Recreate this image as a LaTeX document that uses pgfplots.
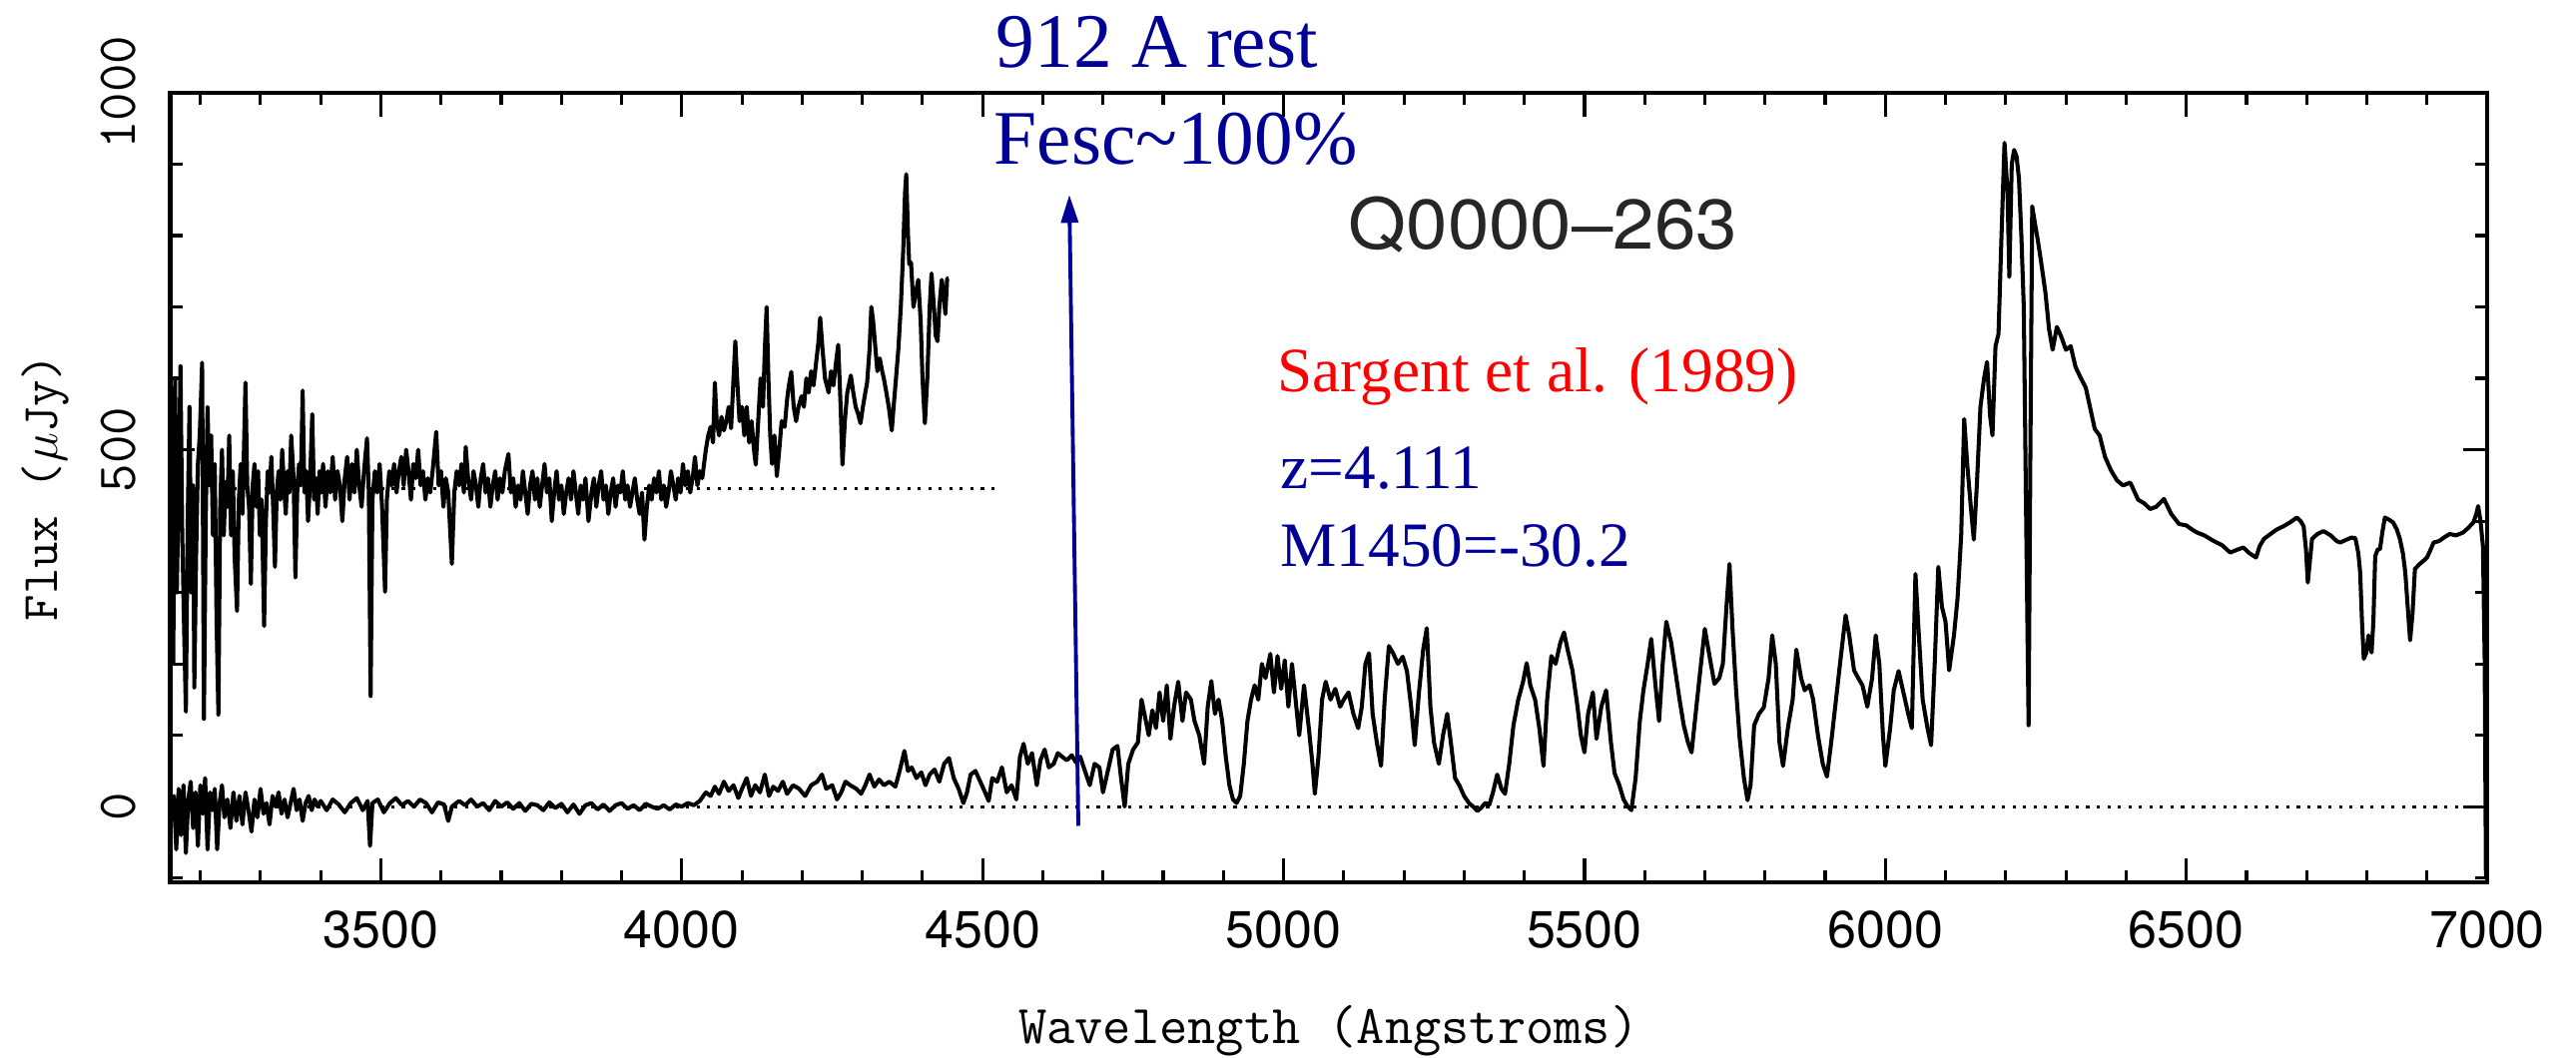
\documentclass[border=0pt]{standalone}
\usepackage{fontspec}
\usepackage{graphicx}
\usepackage{pgfplots}
\usepackage{pgfplotstable}
\pgfplotsset{compat=1.18}
\usetikzlibrary{arrows.meta}
\setmainfont{Liberation Serif}
\newfontfamily\helv{TeX Gyre Heros}
\definecolor{navyb}{RGB}{0,0,150}

\pgfplotstableread{
x y
3152 -20
3156 15
3160 -60
3164 25
3168 -40
3172 30
3176 -65
3180 10
3184 35
3188 -30
3192 20
3196 -55
3200 30
3204 -10
3208 40
3212 -60
3216 20
3220 -5
3224 25
3228 -60
3232 5
3236 30
3240 -15
3245 10
3250 -30
3255 20
3260 -20
3265 15
3270 -25
3275 20
3280 -5
3285 -35
3290 10
3295 -15
3300 25
3305 -10
3310 5
3315 -25
3320 15
3325 0
3330 20
3335 -10
3340 10
3345 -15
3350 5
3355 25
3360 -5
3365 10
3370 -20
3375 5
3380 15
3385 -5
3390 10
3395 0
3400 8
3410 -5
3420 10
3430 3
3440 -8
3450 5
3460 12
3470 -5
3478 8
3482 -55
3486 5
3495 10
3505 -8
3515 5
3525 12
3535 2
3545 8
3555 0
3565 10
3575 5
3585 -8
3595 6
3605 3
3612 -20
3618 0
3630 8
3640 2
3650 10
3660 0
3670 5
3680 -5
3690 8
3700 0
3710 6
3720 -3
3730 5
3740 -6
3750 4
3760 2
3770 -5
3780 6
3790 -2
3800 4
3810 -8
3820 3
3830 -10
3840 2
3850 5
3860 -4
3870 3
3880 -6
3890 2
3900 5
3910 -3
3920 2
3930 -5
3940 4
3950 0
3960 -3
3970 2
3980 -4
3990 3
4000 0
4010 5
4020 2
4030 8
4040 20
4048 15
4055 28
4062 18
4070 35
4078 22
4086 30
4094 12
4100 25
4108 40
4115 15
4122 30
4130 20
4138 45
4145 15
4152 28
4160 22
4168 35
4175 18
4185 30
4195 25
4205 15
4215 30
4225 35
4233 45
4240 25
4250 30
4258 10
4265 20
4272 35
4280 30
4290 25
4298 18
4305 30
4312 45
4320 28
4328 38
4336 30
4345 35
4355 28
4362 50
4370 78
4376 50
4382 55
4390 40
4398 48
4405 30
4412 45
4420 52
4428 35
4436 60
4444 68
4452 40
4460 25
4468 5
4474 20
4480 45
4488 50
4496 35
4504 20
4510 8
4516 40
4524 35
4532 55
4540 20
4548 30
4556 10
4562 70
4568 88
4575 60
4582 75
4590 30
4596 65
4603 80
4610 55
4618 60
4625 75
4632 70
4640 65
4648 72
4655 62
4662 70
4670 50
4678 30
4686 60
4694 55
4700 20
4708 50
4716 80
4724 85
4730 40
4736 0
4742 60
4750 80
4758 90
4764 150
4770 125
4776 100
4782 135
4788 110
4794 160
4800 120
4806 170
4812 95
4818 140
4825 175
4832 120
4838 160
4846 150
4852 120
4860 100
4868 60
4874 140
4880 176
4886 130
4892 150
4898 120
4904 70
4910 30
4916 10
4922 5
4928 15
4934 60
4940 120
4946 150
4952 170
4958 150
4964 200
4970 180
4978 214
4984 160
4990 211
4996 165
5002 205
5008 140
5014 200
5020 150
5026 100
5034 170
5042 110
5048 60
5052 18
5058 70
5064 150
5070 175
5078 150
5086 165
5094 140
5100 150
5108 160
5116 130
5124 110
5130 140
5136 200
5142 215
5148 130
5155 90
5162 57
5168 150
5175 225
5182 215
5190 200
5198 210
5205 190
5212 140
5218 86
5225 160
5232 220
5238 250
5244 140
5250 90
5258 60
5265 100
5272 130
5278 90
5285 40
5292 30
5300 15
5308 5
5315 0
5322 -6
5328 -2
5335 5
5342 3
5348 20
5355 45
5362 25
5368 18
5375 60
5382 114
5390 150
5398 175
5404 201
5410 170
5418 150
5425 110
5432 57
5438 150
5445 211
5452 200
5460 230
5466 244
5472 220
5480 191
5488 143
5494 100
5500 76
5506 130
5514 160
5520 95
5528 140
5536 163
5544 90
5550 47
5558 30
5565 10
5572 0
5578 -5
5585 40
5592 120
5598 163
5605 200
5611 235
5618 170
5624 120
5630 200
5636 259
5644 230
5650 196
5658 150
5665 114
5672 90
5678 76
5686 140
5692 187
5700 249
5708 210
5716 172
5724 180
5730 200
5736 280
5741 340
5746 250
5752 163
5758 95
5765 40
5771 9
5776 30
5782 114
5790 130
5798 139
5806 180
5812 240
5818 200
5824 90
5830 57
5838 110
5846 150
5852 220
5860 180
5866 163
5874 170
5880 150
5888 100
5896 60
5903 42
5910 90
5918 150
5926 210
5934 268
5940 240
5948 191
5955 180
5962 170
5970 140
5978 180
5984 240
5990 200
5996 100
6000 57
6008 110
6014 163
6022 190
6030 160
6038 130
6044 110
6050 326
6055 250
6062 150
6070 110
6076 86
6082 200
6088 336
6094 280
6100 259
6106 191
6114 240
6120 292
6126 380
6131 543
6136 480
6142 420
6147 374
6152 450
6158 560
6164 600
6169 623
6174 548
6178 520
6183 645
6188 662
6193 800
6198 930
6203 860
6206 742
6210 900
6214 920
6218 911
6222 880
6226 800
6230 700
6234 400
6238 114
6241 500
6244 841
6248 820
6254 790
6260 756
6266 720
6272 669
6278 640
6285 672
6292 659
6300 640
6308 645
6316 616
6325 600
6333 587
6340 560
6348 529
6356 520
6365 490
6375 471
6385 457
6395 450
6407 454
6420 430
6430 425
6440 417
6450 420
6463 431
6475 410
6488 396
6500 394
6510 388
6518 384
6530 380
6546 372
6560 366
6573 356
6585 360
6595 363
6605 355
6616 349
6622 365
6629 375
6640 382
6650 388
6662 393
6672 398
6684 405
6690 400
6695 393
6699 360
6702 314
6705 340
6709 375
6718 382
6728 386
6740 380
6750 372
6756 370
6766 374
6775 377
6781 376
6786 355
6789 328
6792 260
6795 207
6799 215
6803 240
6806 222
6808 216
6811 260
6814 351
6818 360
6822 361
6826 385
6830 405
6837 402
6844 398
6850 388
6855 375
6860 355
6864 328
6868 280
6872 233
6876 270
6880 333
6888 340
6895 345
6900 349
6906 360
6911 370
6920 372
6930 378
6938 382
6948 380
6960 384
6968 390
6977 398
6982 410
6985 421
6989 400
6993 365
6996 200
6998 -100
}\lowspec

\pgfplotstableread{
x y
3152 350
3155 200
3158 600
3161 300
3164 450
3167 617
3170 380
3173 250
3176 133
3179 400
3182 560
3185 300
3188 450
3190 167
3193 350
3196 480
3199 520
3203 622
3206 123
3209 400
3212 560
3215 450
3218 520
3221 380
3224 480
3227 260
3230 129
3233 420
3236 500
3239 380
3242 455
3245 420
3248 520
3251 380
3254 470
3257 350
3261 274
3264 430
3267 480
3270 410
3273 520
3275 594
3278 450
3281 420
3284 312
3287 450
3290 480
3293 420
3296 470
3299 380
3302 430
3306 253
3309 400
3312 470
3315 440
3318 490
3321 420
3324 336
3327 440
3330 470
3333 430
3336 500
3339 450
3342 410
3345 470
3348 440
3351 520
3355 460
3358 321
3361 440
3364 480
3367 450
3370 583
3373 440
3376 470
3379 400
3382 450
3386 550
3389 430
3392 460
3395 410
3398 470
3401 440
3404 480
3408 420
3412 470
3416 440
3420 490
3424 430
3428 470
3432 450
3436 400
3440 460
3444 490
3448 430
3452 480
3456 440
3460 500
3464 450
3468 420
3472 470
3477 516
3480 440
3483 155
3486 430
3490 470
3494 440
3498 480
3502 420
3507 301
3510 430
3514 470
3518 450
3522 480
3526 440
3530 470
3534 490
3538 450
3542 500
3546 470
3550 430
3554 480
3558 460
3562 500
3566 450
3570 470
3574 430
3578 460
3582 440
3586 470
3592 525
3596 450
3600 470
3604 420
3608 460
3612 440
3618 340
3622 440
3626 470
3630 450
3634 480
3638 440
3641 504
3645 460
3650 430
3654 470
3658 450
3662 420
3666 460
3670 480
3674 440
3678 460
3682 420
3686 450
3690 470
3694 430
3698 460
3702 440
3706 470
3712 494
3716 440
3720 460
3724 420
3728 450
3732 430
3736 470
3740 440
3744 410
3748 450
3752 470
3756 430
3760 460
3764 420
3768 450
3772 480
3776 440
3780 460
3784 400
3788 440
3792 470
3796 430
3800 450
3804 410
3808 440
3812 460
3816 430
3820 470
3824 440
3828 410
3832 450
3836 430
3840 460
3845 400
3850 440
3854 460
3858 420
3862 450
3866 470
3870 430
3874 450
3878 410
3882 440
3886 460
3890 420
3894 450
3898 440
3902 470
3906 430
3910 450
3914 420
3918 440
3922 460
3926 430
3930 410
3934 440
3938 374
3942 420
3946 450
3950 430
3954 460
3958 440
3962 470
3966 430
3970 450
3974 420
3978 440
3982 470
3986 450
3990 430
3994 460
3998 440
4002 480
4006 450
4010 470
4014 440
4018 460
4022 490
4026 450
4030 470
4034 460
4040 500
4044 520
4048 532
4052 510
4055 594
4058 540
4062 520
4066 546
4070 527
4074 540
4078 560
4082 530
4086 600
4089 652
4092 600
4096 540
4100 560
4104 520
4108 560
4112 510
4116 540
4120 500
4123 479
4127 540
4131 600
4135 560
4138 640
4141 700
4144 600
4147 520
4150 480
4154 520
4158 463
4162 500
4166 540
4171 532
4175 570
4178 590
4182 609
4186 560
4190 540
4194 560
4199 575
4203 560
4207 600
4211 580
4215 610
4219 590
4223 620
4227 650
4230 685
4234 640
4238 600
4244 580
4248 610
4252 590
4256 620
4260 647
4264 560
4267 479
4271 540
4275 580
4281 604
4285 580
4289 560
4293 550
4297 537
4301 560
4305 580
4308 594
4312 640
4315 700
4318 680
4322 640
4325 610
4329 628
4333 610
4336 599
4340 580
4344 560
4349 527
4352 560
4356 600
4360 642
4364 700
4368 780
4371 860
4373 886
4376 800
4378 760
4381 762
4385 700
4389 720
4393 738
4397 680
4400 600
4404 537
4408 600
4412 700
4415 747
4419 700
4422 660
4425 652
4428 700
4432 738
4435 720
4438 690
4441 740
4443 740
}\upspec

\begin{document}
\begin{tikzpicture}
\useasboundingbox (0,0) rectangle (25.8cm,10.6cm);
\begin{axis}[
  at={(1.705cm,1.76cm)}, anchor=south west,
  width=23.205cm, height=7.91cm, scale only axis,
  xmin=3150, xmax=7000, ymin=-106, ymax=1000,
  xtick={3500,4000,4500,5000,5500,6000,6500,7000},
  xticklabels={3500,4000,4500,5000,5500,6000,6500,7000},
  minor xtick={3200,3300,...,6900},
  ytick={0,500,1000},
  yticklabels={0,500,1000},
  minor ytick={-100,100,200,300,400,600,700,800,900},
  tick align=inside,
  major tick length=0.24cm, minor tick length=0.12cm,
  every tick/.style={black, line width=0.9pt},
  axis line style={line width=1.3pt},
  xticklabel style={font=\helv\fontsize{14.8}{17}\selectfont, anchor=north, inner sep=0.28cm},
  yticklabel style={font=\ttfamily\fontsize{15.7}{18}\selectfont, rotate=90, anchor=south, inner sep=0.337cm},
  xlabel={Wavelength (Angstroms)},
  xlabel style={font=\ttfamily\fontsize{15.6}{18}\selectfont, at={(axis description cs:0.5,0)}, anchor=base, yshift=-1.62cm},
  ylabel={Flux ($\mu$Jy)},
  ylabel style={font=\ttfamily\fontsize{14.6}{17}\selectfont, at={(axis description cs:-0.0537,0.5)}, anchor=center},
]
\addplot[black, line width=0.9pt, dash pattern=on 0.9pt off 2.1pt] coordinates {(3150,0) (7000,0)};
\addplot[black, line width=0.9pt, dash pattern=on 0.9pt off 2.1pt] coordinates {(3150,446) (4530,446)};
\addplot[black, line width=1.15pt, line join=round] table[x=x,y=y] {\lowspec};
\addplot[black, line width=1.15pt, line join=round] table[x=x,y=y] {\upspec};
\addplot[navyb, line width=1.1pt, -{Triangle[length=0.28cm,width=0.17cm]}] coordinates {(4659,-27) (4644,857)};
\end{axis}
\node[anchor=base west, inner sep=0, text=navyb, font=\fontsize{22}{26}\selectfont] at (9.97cm,9.92cm) {912 A rest};
\node[anchor=base west, inner sep=0, text=navyb, font=\fontsize{22}{26}\selectfont] at (9.95cm,8.95cm) {Fesc\textasciitilde100\%};
\node[anchor=base west, inner sep=0, text=black!85, font=\helv\fontsize{20}{24}\selectfont] at (13.50cm,8.10cm) {\scalebox{1.06}[1]{Q0000–263}};
\node[anchor=base west, inner sep=0, text=red, font=\fontsize{18}{22}\selectfont] at (12.79cm,6.67cm) {Sargent et al. (1989)};
\node[anchor=base west, inner sep=0, text=navyb, font=\fontsize{18}{22}\selectfont] at (12.82cm,5.70cm) {z=4.111};
\node[anchor=base west, inner sep=0, text=navyb, font=\fontsize{18}{22}\selectfont] at (12.82cm,4.92cm) {M1450=-30.2};
\end{tikzpicture}
\end{document}
